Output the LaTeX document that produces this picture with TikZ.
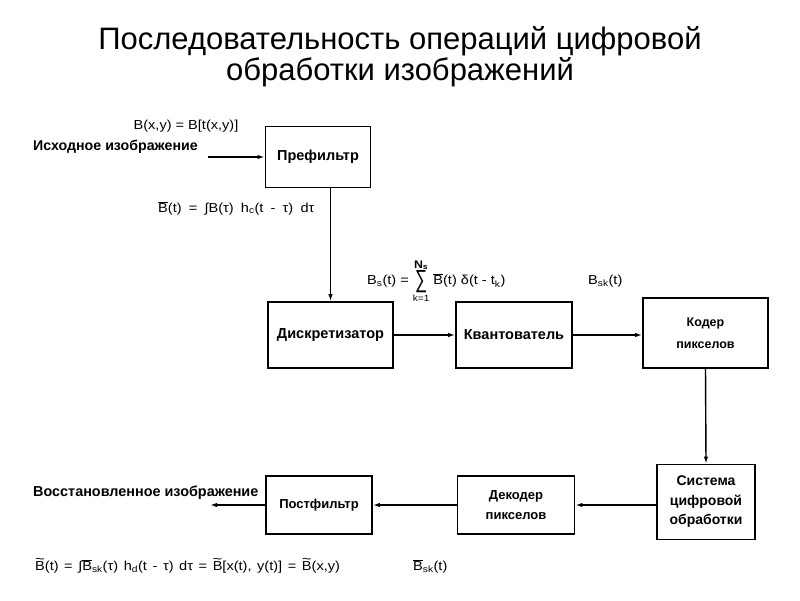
\documentclass[tikz,border=0pt]{standalone}
\usepackage{fontspec}
\usepackage{graphicx}
\setmainfont{Liberation Sans}
\newfontfamily\widef[FakeStretch=1.12]{Liberation Sans}
\usetikzlibrary{arrows.meta}
\newcommand{\ovB}{$\overline{\hbox{B}}$}
\newcommand{\tlB}{\leavevmode\ooalign{B\cr\hidewidth\raisebox{0.5em}{\scalebox{1.15}[1]{\char"7E}}\hidewidth\cr}}
\newcommand{\bigsum}{\mathop{\hbox{\raisebox{-3pt}{\scalebox{0.8}[1.3]{\fontsize{19}{19}\selectfont ∑}}}}}
\begin{document}
\begin{tikzpicture}[x=1pt,y=-1pt,
  box/.style={draw, line width=1.8pt, align=center, inner sep=0pt,
    font=\bfseries\fontsize{14.5}{18}\selectfont},
  arr/.style={line width=1.4pt, -{Latex[length=7pt,width=4.5pt]}},
  frm/.style={font=\widef\fontsize{13}{15}\selectfont, inner sep=0pt},
  lbl/.style={font=\bfseries\fontsize{14.2}{16}\selectfont, inner sep=0pt}]
\useasboundingbox (0,0) rectangle (800,600);
\fill[white] (0,0) rectangle (800,600);

\node[font=\fontsize{31}{31}\selectfont, align=center, inner sep=0pt] (title) at (400,57)
  {Последовательность операций цифровой\\обработки изображений};

\node[box, minimum width=105pt, minimum height=61pt] (pre) at (318,157) {Префильтр};
\node[box, minimum width=125pt, minimum height=66pt] (disk) at (330.5,335) {Дискретизатор};
\node[box, minimum width=116pt, minimum height=66pt] (kv) at (514,335) {Квантователь};
\node[box, minimum width=125pt, minimum height=70pt, font=\bfseries\fontsize{12.5}{22}\selectfont] (cod) at (705.5,333) {Кодер\\пикселов};
\node[box, minimum width=98pt, minimum height=75pt, font=\bfseries\fontsize{14}{19.5}\selectfont] (sys) at (706,502) {Система\\цифровой\\обработки};
\node[box, minimum width=117pt, minimum height=58pt, font=\bfseries\fontsize{13}{20}\selectfont] (dec) at (516,505) {Декодер\\пикселов};
\node[box, minimum width=106pt, minimum height=58pt, font=\bfseries\fontsize{13}{16}\selectfont] (post) at (319,505) {Постфильтр};

\node[lbl, anchor=west] (src) at (33,147) {Исходное изображение};
\node[lbl, font=\bfseries\fontsize{14.4}{16}\selectfont, anchor=west] (rec) at (33,493) {Восстановленное изображение};

\coordinate (in) at (208,157);
\coordinate (out) at (210,505);
\draw[arr] (in) -- (in -| pre.west);
\draw[arr] (pre.south -| disk.north) -- (disk.north);
\draw[arr] (disk.east) -- (kv.west);
\draw[arr] (kv.east) -- (kv.east -| cod.west);
\draw[arr] (cod.south) -- (sys.north);
\draw[arr] (sys.west |- dec) -- (dec.east);
\draw[arr] (dec.west) -- (post.east);
\draw[arr] (post.west) -- (out);

\node[frm] (f1) at (186,126) {B(x,y) = B[t(x,y)]};
\node[frm, anchor=west] (f2) at (158,208) {\spaceskip=7.2pt plus 1pt\ovB(t) = ∫B(τ) h\textsubscript{c}(t - τ) dτ};
\node[frm, anchor=west] (f3) at (367,281) {B\textsubscript{s}(t) = $\bigsum\limits_{\hbox{\fontsize{9}{10}\selectfont k=1}}^{\hbox{\bfseries\fontsize{11}{12}\selectfont N\textsubscript{s}}}$ \ovB(t) δ(t - t\textsubscript{k})};
\node[frm, anchor=west] (f4) at (588,281) {B\textsubscript{sk}(t)};
\node[frm, anchor=west] (f5) at (35,566) {\spaceskip=5.6pt plus 1pt\tlB(t) = ∫\ovB\textsubscript{sk}(τ) h\textsubscript{d}(t - τ) dτ = \tlB[x(t), y(t)] = \tlB(x,y)};
\node[frm, anchor=west] (f6) at (413,566) {\ovB\textsubscript{sk}(t)};
\end{tikzpicture}
\end{document}
